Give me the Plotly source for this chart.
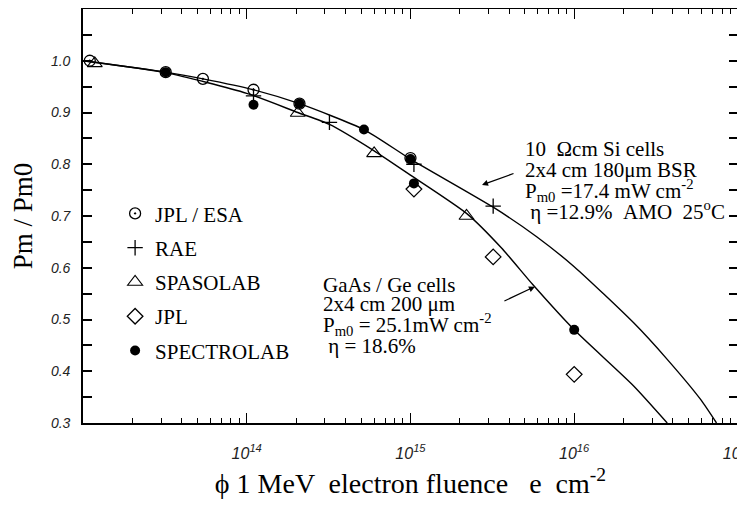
import plotly.graph_objects as go

# ---- data ----
si_fluence = [1e13, 3.2e13, 5.4e13, 1.1e14, 2.1e14, 5.2e14, 1.0e15, 3.2e15, 5.9e15, 1e16, 2.3e16, 3.7e16, 5.9e16, 7.4e16]
si_pm = [1.0, 0.978, 0.965, 0.944, 0.917, 0.867, 0.81, 0.717, 0.66, 0.602, 0.494, 0.423, 0.346, 0.30]

gaas_fluence = [1e13, 3.2e13, 1e14, 2.05e14, 3.2e14, 6e14, 1.0e15, 2.2e15, 3.6e15, 5.6e15, 1e16, 2.3e16, 3.7e16]
gaas_pm = [1.0, 0.977, 0.937, 0.90, 0.877, 0.826, 0.779, 0.705, 0.638, 0.567, 0.48, 0.372, 0.30]

jplesa_x = [1.1e13, 3.2e13, 5.4e13, 1.1e14, 2.1e14, 1.0e15]
jplesa_y = [1.0, 0.978, 0.965, 0.944, 0.917, 0.812]

rae_x = [1.1e14, 3.2e14, 1.05e15, 3.2e15]
rae_y = [0.932, 0.881, 0.80, 0.719]

spasolab_x = [1.18e13, 2.05e14, 6e14, 2.2e15]
spasolab_y = [0.995, 0.899, 0.821, 0.70]

jpl_x = [1.05e15, 3.2e15, 1e16]
jpl_y = [0.752, 0.621, 0.394]

spectro_x = [3.2e13, 1.1e14, 2.1e14, 5.2e14, 1.0e15, 1.05e15, 1e16]
spectro_y = [0.978, 0.915, 0.917, 0.867, 0.81, 0.763, 0.48]

x_major = [1e14, 1e15, 1e16, 1e17]
x_major_text = ["10<sup>14</sup>", "10<sup>15</sup>", "10<sup>16</sup>", "10<sup>17</sup>"]
x_minor = [m * 10 ** e for e in range(13, 17) for m in range(2, 10)]
y_major = [0.3, 0.4, 0.5, 0.6, 0.7, 0.8, 0.9, 1.0]
y_major_text = ["0.3", "0.4", "0.5", "0.6", "0.7", "0.8", "0.9", "1.0"]

SERIF = "Liberation Serif"
SANS = "Liberation Sans"

fig = go.Figure()

fig.add_trace(go.Scatter(x=si_fluence, y=si_pm, mode="lines", line=dict(color="black", width=1.4, shape="spline", smoothing=0.6),
                         showlegend=False, hoverinfo="skip"))
fig.add_trace(go.Scatter(x=gaas_fluence, y=gaas_pm, mode="lines", line=dict(color="black", width=1.4, shape="spline", smoothing=0.6),
                         showlegend=False, hoverinfo="skip"))

fig.add_trace(go.Scatter(x=spectro_x, y=spectro_y, mode="markers", name="SPECTROLAB", legendrank=5, legendgroup="e",
                         marker=dict(symbol="circle", size=10, color="black")))
fig.add_trace(go.Scatter(x=jplesa_x, y=jplesa_y, mode="markers", name="JPL / ESA", legendrank=1, legendgroup="a",
                         marker=dict(symbol="circle-open-dot", size=11, color="black", line=dict(width=1.3))))
fig.add_trace(go.Scatter(x=rae_x, y=rae_y, mode="markers", name="RAE", legendrank=2, legendgroup="b",
                         marker=dict(symbol="cross-thin-open", size=11, color="black", line=dict(width=1.3))))
fig.add_trace(go.Scatter(x=spasolab_x, y=spasolab_y, mode="markers", name="SPASOLAB", legendrank=3, legendgroup="c",
                         marker=dict(symbol="triangle-up-open", size=13, color="black", line=dict(width=1.1))))
fig.add_trace(go.Scatter(x=jpl_x, y=jpl_y, mode="markers", name="JPL", legendrank=4, legendgroup="d",
                         marker=dict(symbol="diamond-open", size=12, color="black", line=dict(width=1.3))))

ann_font = dict(family=SERIF, size=21, color="black")
annotations = []
si_lines = ["10  \u03a9cm Si cells", "2x4 cm 180\u03bcm BSR", "P<sub>m0</sub> =17.4 mW cm<sup>-2</sup>",
            " \u03b7 =12.9%  AMO  25<sup>o</sup>C"]
si_y = [0.662, 0.611, 0.562, 0.514]
for t, yy in zip(si_lines, si_y):
    annotations.append(dict(x=0.672, y=yy, xref="paper", yref="paper", text=t, showarrow=False,
                            xanchor="left", yanchor="middle", font=ann_font))
ga_lines = ["GaAs / Ge cells", "2x4 cm 200 \u03bcm", "P<sub>m0</sub> = 25.1mW cm<sup>-2</sup>", " \u03b7 = 18.6%"]
ga_y = [0.333, 0.288, 0.238, 0.186]
for t, yy in zip(ga_lines, ga_y):
    annotations.append(dict(x=0.364, y=yy, xref="paper", yref="paper", text=t, showarrow=False,
                            xanchor="left", yanchor="middle", font=ann_font))
# arrows
annotations.append(dict(x=15.437, y=0.76, xref="x", yref="y", text="", showarrow=True, arrowhead=2,
                        arrowsize=1, arrowwidth=1.2, arrowcolor="black", ax=33, ay=-12))
annotations.append(dict(x=15.76, y=0.5635, xref="x", yref="y", text="", showarrow=True, arrowhead=2,
                        arrowsize=1, arrowwidth=1.2, arrowcolor="black", ax=-32, ay=15))

fig.update_layout(
    width=745, height=506,
    margin=dict(l=75, r=15, t=1, b=91, autoexpand=False),
    paper_bgcolor="white", plot_bgcolor="white",
    annotations=annotations,
    legend=dict(x=0.049, y=0.555, xanchor="left", yanchor="top", bgcolor="rgba(0,0,0,0)",
                font=dict(family=SERIF, size=21, color="black"), tracegroupgap=4, itemwidth=30),
)

fig.update_xaxes(
    type="log", range=[13, 17.0005], automargin=False,
    tickmode="array", tickvals=x_major, ticktext=x_major_text, ticklabeloverflow="allow",
    ticks="inside", ticklen=10, tickwidth=1.2, tickcolor="black",
    minor=dict(tickmode="array", tickvals=x_minor, ticks="inside", ticklen=5, tickwidth=1, tickcolor="black"),
    showline=True, linecolor="black", linewidth=1.6, mirror="ticks",
    showgrid=False, zeroline=False, ticklabelstandoff=15,
    tickfont=dict(family=SANS, size=16, color="#222", style="italic"),
    title=dict(text="\u03d5 1 MeV  electron fluence   e  cm<sup>-2</sup>", font=dict(family=SERIF, size=28, color="black"),
               standoff=12),
)
fig.update_yaxes(
    range=[0.3, 1.1], automargin=False,
    tickmode="array", tickvals=y_major, ticktext=y_major_text,
    ticks="inside", ticklen=9, tickwidth=1.5, tickcolor="black",
    minor=dict(dtick=0.05, ticks="inside", ticklen=9, tickwidth=1.5, tickcolor="black"),
    showline=True, linecolor="black", linewidth=1.6, mirror="ticks",
    showgrid=False, zeroline=False, ticklabelstandoff=8,
    tickfont=dict(family=SANS, size=14, color="#222", style="italic"),
    title=dict(text="Pm / Pm0", font=dict(family=SERIF, size=27, color="black"), standoff=10),
)

fig.write_html("out.html")
